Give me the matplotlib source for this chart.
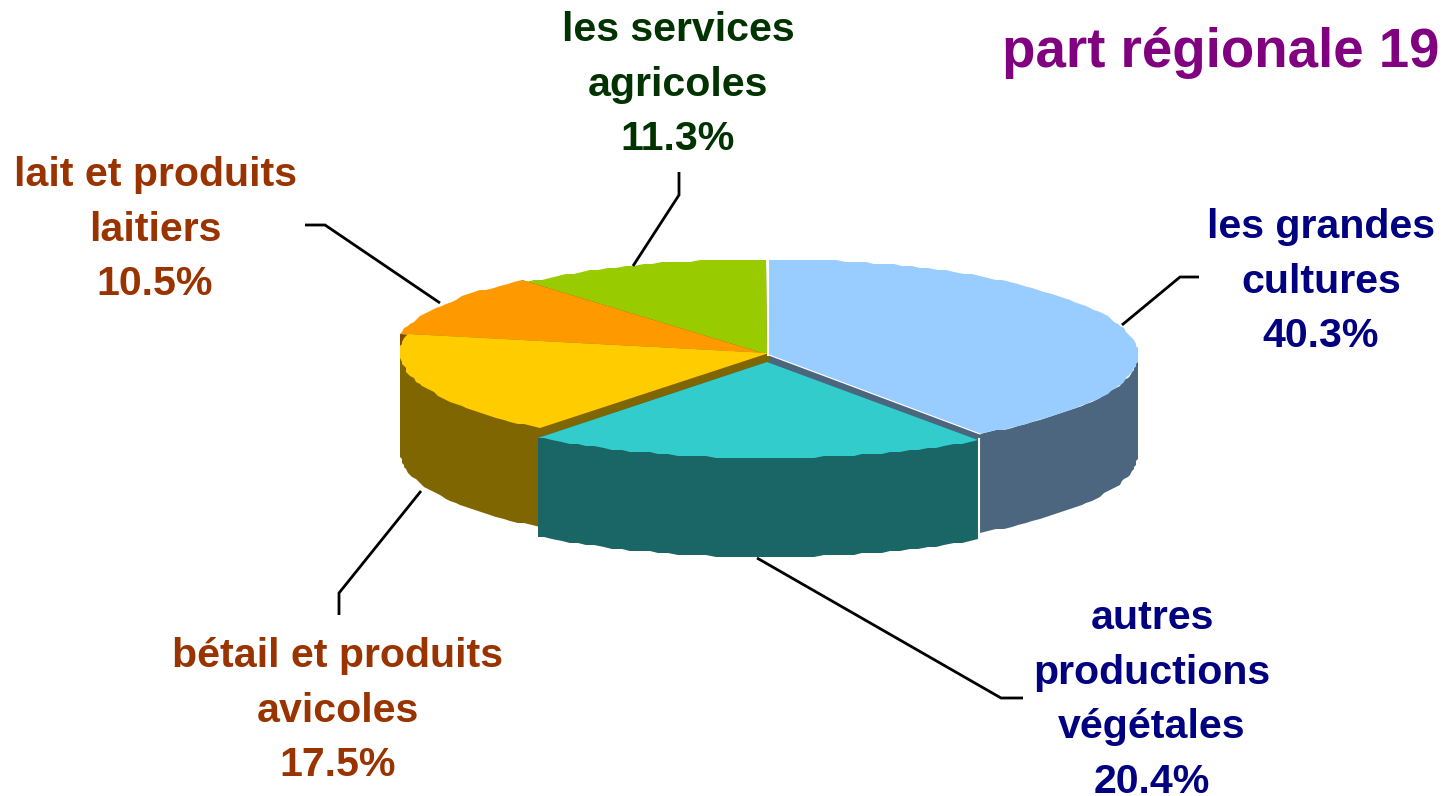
import numpy as np
import matplotlib
matplotlib.use("Agg")
import matplotlib.pyplot as plt

plt.rcParams['font.family'] = ['Liberation Sans', 'DejaVu Sans']

title = "part régionale 19"
labels = [["les grandes", "cultures"], ["autres", "productions", "végétales"], ["bétail et produits", "avicoles"],
          ["lait et produits", "laitiers"], ["les services", "agricoles"]]
shares = [40.3, 20.4, 17.5, 10.5, 11.3]

top_colors = ["#99CCFF", "#33CCCC", "#FFCC00", "#FF9900", "#99CC00"]
wall_colors = ["#4D6680", "#1A6666", "#806600", "#804C00", "#4D6600"]
text_colors = ["#000080", "#000080", "#993300", "#993300", "#003300"]

# pie geometry, in pixels
RX, RY, DEPTH = 369, 96, 99
centers = [(769, 355), (767, 362), (769, 353), (762, 353), (767, 355)]
GRAIN = 2  # the source outline is stepped, not smooth

# label centre x and first baseline, leader line
label_pos = [(1321, 238), (1152, 629), (338, 667), (155, 186), (678, 41)]
LINE_GAP = 54.7
leaders = [[(1122, 325), (1180, 277), (1199, 277)],
           [(757, 558), (1001, 698), (1023, 698)],
           [(421, 491), (339, 593), (339, 615)],
           [(440, 303), (325, 225), (305, 225)],
           [(633, 266), (679, 195), (679, 172)]]


def rim(cx, cy, a0, a1, step=1.5):
    # angles in degrees, clockwise from the top of the pie
    n = max(int(abs(a1 - a0) / step), 1)
    a = np.radians(np.linspace(a0, a1, n + 1))
    x = cx + RX * np.sin(a)
    y = cy - RY * np.cos(a)
    return np.round(x / GRAIN) * GRAIN, np.round(y / GRAIN) * GRAIN


fig = plt.figure(figsize=(14.43, 7.96), dpi=100)
ax = fig.add_axes([0, 0, 1, 1])
ax.set_xlim(0, 1443)
ax.set_ylim(796, 0)
ax.axis('off')

edges = 3.6 * np.cumsum([0] + shares)

# back to front so that the nearer slices cover the cut faces
for i in [4, 0, 3, 2, 1]:
    cx, cy = centers[i]
    a0, a1 = edges[i], edges[i + 1]
    x, y = rim(cx, cy, a0, a1)

    # cut face and outer wall
    ax.fill([cx, x[0], x[0], cx], [cy, y[0], y[0] + DEPTH, cy + DEPTH], color=wall_colors[i], lw=0)
    ax.fill([cx, x[-1], x[-1], cx], [cy, y[-1], y[-1] + DEPTH, cy + DEPTH], color=wall_colors[i], lw=0)
    lo, hi = max(a0, 90), min(a1, 270)
    if lo < hi:
        wx, wy = rim(cx, cy, lo, hi)
        ax.fill(np.r_[wx, wx[::-1]], np.r_[wy, wy[::-1] + DEPTH], color=wall_colors[i], lw=0)

    ax.fill(np.r_[cx, x], np.r_[cy, y], color=top_colors[i], lw=0)

# white seams
ax.plot([768, 768], [260, 355], color="white", lw=1.5)
bx, by = rim(*centers[0], edges[1], edges[1])
ax.plot([centers[0][0], bx[0]], [centers[0][1], by[0]], color="white", lw=0.8)
tx, ty = rim(*centers[1], edges[1], edges[1])
ax.plot([tx[0] + 0.5, tx[0] + 0.5], [ty[0] - 1, ty[0] + DEPTH], color="white", lw=1.5)

for i, lab in enumerate(labels):
    px = np.array(leaders[i])
    ax.plot(px[:, 0], px[:, 1], color="black", lw=2, solid_capstyle='butt', solid_joinstyle='miter')
    for j, line in enumerate(lab + [f"{shares[i]}%"]):
        ax.text(label_pos[i][0], label_pos[i][1] + j * LINE_GAP, line, color=text_colors[i],
                fontsize=29.6, fontweight='bold', ha='center', va='baseline')

ax.text(1221, 67, title, color="#800080", fontsize=39.3, fontweight='bold', ha='center', va='baseline')

fig.savefig("out.png", dpi=100)
